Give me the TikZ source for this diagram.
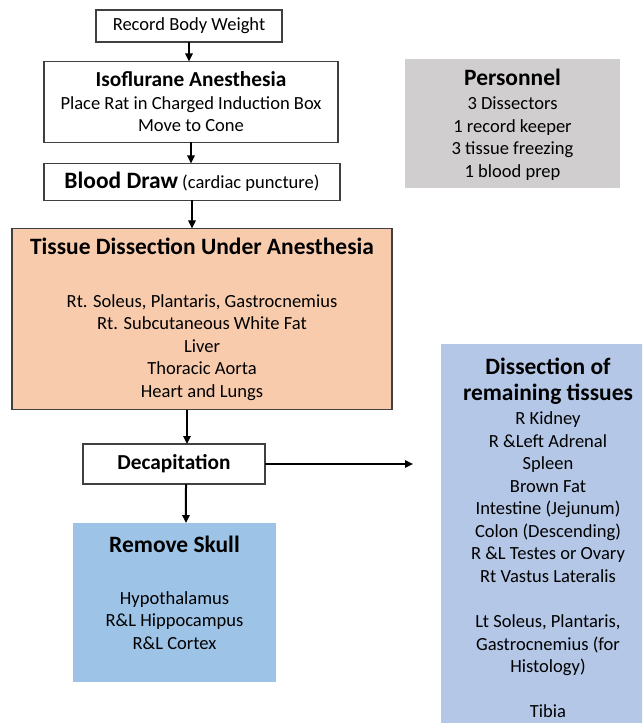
\documentclass[tikz,border=0pt]{standalone}
\usepackage{fontspec}
\setmainfont{Carlito}
\usetikzlibrary{arrows.meta}

\definecolor{peach}{HTML}{F8CBAD}
\definecolor{skullblue}{HTML}{9DC3E6}
\definecolor{tissueblue}{HTML}{B4C7E7}
\definecolor{staffgray}{HTML}{D0CECE}

\newcommand{\hd}[1]{{\fontsize{17.6}{21}\selectfont\bfseries #1}}
\newcommand{\hs}[1]{{\fontsize{16}{19}\selectfont\bfseries #1}}

\tikzset{
	box/.style={draw=black!75, line width=0.8pt, fill=white, inner sep=0pt, outer sep=0pt, align=center, font=\fontsize{13.9}{16.9}\selectfont},
	plain/.style={box, draw=none},
	arr/.style={line width=1.5pt, -{Triangle[length=6pt,width=5.5pt]}}
}

\begin{document}
\begin{tikzpicture}[x=0.75pt, y=-0.75pt]
	
	%Frame
	\useasboundingbox (0,0) rectangle (642,723);
	\clip (0,0) rectangle (642,723);
	
	%Steps
	\node[box, minimum width=139.5pt, minimum height=24pt] (weight) at (189,26) {Record Body Weight};
	\node[box, minimum width=220.5pt, minimum height=60.75pt] (iso) at (191,102) {\hs{Isoflurane Anesthesia}\\Place Rat in Charged Induction Box\\Move to Cone};
	\node[box, minimum width=222pt, minimum height=27.75pt] (blood) at (192,182) {\hd{Blood Draw} (cardiac puncture)};
	
	%Dissection under anesthesia
	\node[box, fill=peach, minimum width=285pt, minimum height=135.75pt] (tissue) at (202,319) {\hd{Tissue Dissection Under Anesthesia}\\[22.9pt]Rt. Soleus, Plantaris, Gastrocnemius\\Rt. Subcutaneous White Fat\\Liver\\Thoracic Aorta\\Heart and Lungs};
	
	%Decapitation
	\node[box, minimum width=136.5pt, minimum height=30pt] (decap) at (174,464) {\hs{Decapitation}};
	
	%Brain
	\node[plain, fill=skullblue, minimum width=152.25pt, minimum height=119.25pt, text depth=15pt] (skull) at (174.5,602.5) {\hd{Remove Skull}\\[22pt]Hypothalamus\\R\&L Hippocampus\\R\&L Cortex};
	
	%Personnel
	\node[plain, fill=staffgray, minimum width=161.25pt, minimum height=96.75pt, text depth=-1.5pt] (staff) at (512.5,123.5) {\hd{Personnel}\\[1.1pt]3 Dissectors\\1 record keeper\\3 tissue freezing\\1 blood prep};
	
	%Remaining tissues
	\node[plain, fill=tissueblue, minimum width=160.5pt, minimum height=291pt] (remain) at (548,538) {\hd{Dissection of}\\[2.6pt]\hd{remaining tissues}\\[1.1pt]R Kidney\\R \&Left Adrenal\\Spleen\\Brown Fat\\Intestine (Jejunum)\\Colon (Descending)\\R \&L Testes or Ovary\\Rt Vastus Lateralis\\[16.9pt]Lt Soleus, Plantaris,\\Gastrocnemius (for\\Histology)\\[16.9pt]Tibia};
	
	%Arrows
	\draw[arr] (weight.south) -- (weight.south |- iso.north);
	\draw[arr] (iso.south) -- (iso.south |- blood.north);
	\draw[arr] (blood.south) -- (blood.south |- tissue.north);
	\draw[arr] ([xshift=-11.25pt]tissue.south) -- ([xshift=9.75pt]decap.north);
	\draw[arr] ([xshift=9pt]decap.south) -- ([xshift=8.6pt]skull.north);
	\draw[arr] (decap.east) -- ([xshift=-21pt]decap.east -| remain.west);
	
\end{tikzpicture}
\end{document}
